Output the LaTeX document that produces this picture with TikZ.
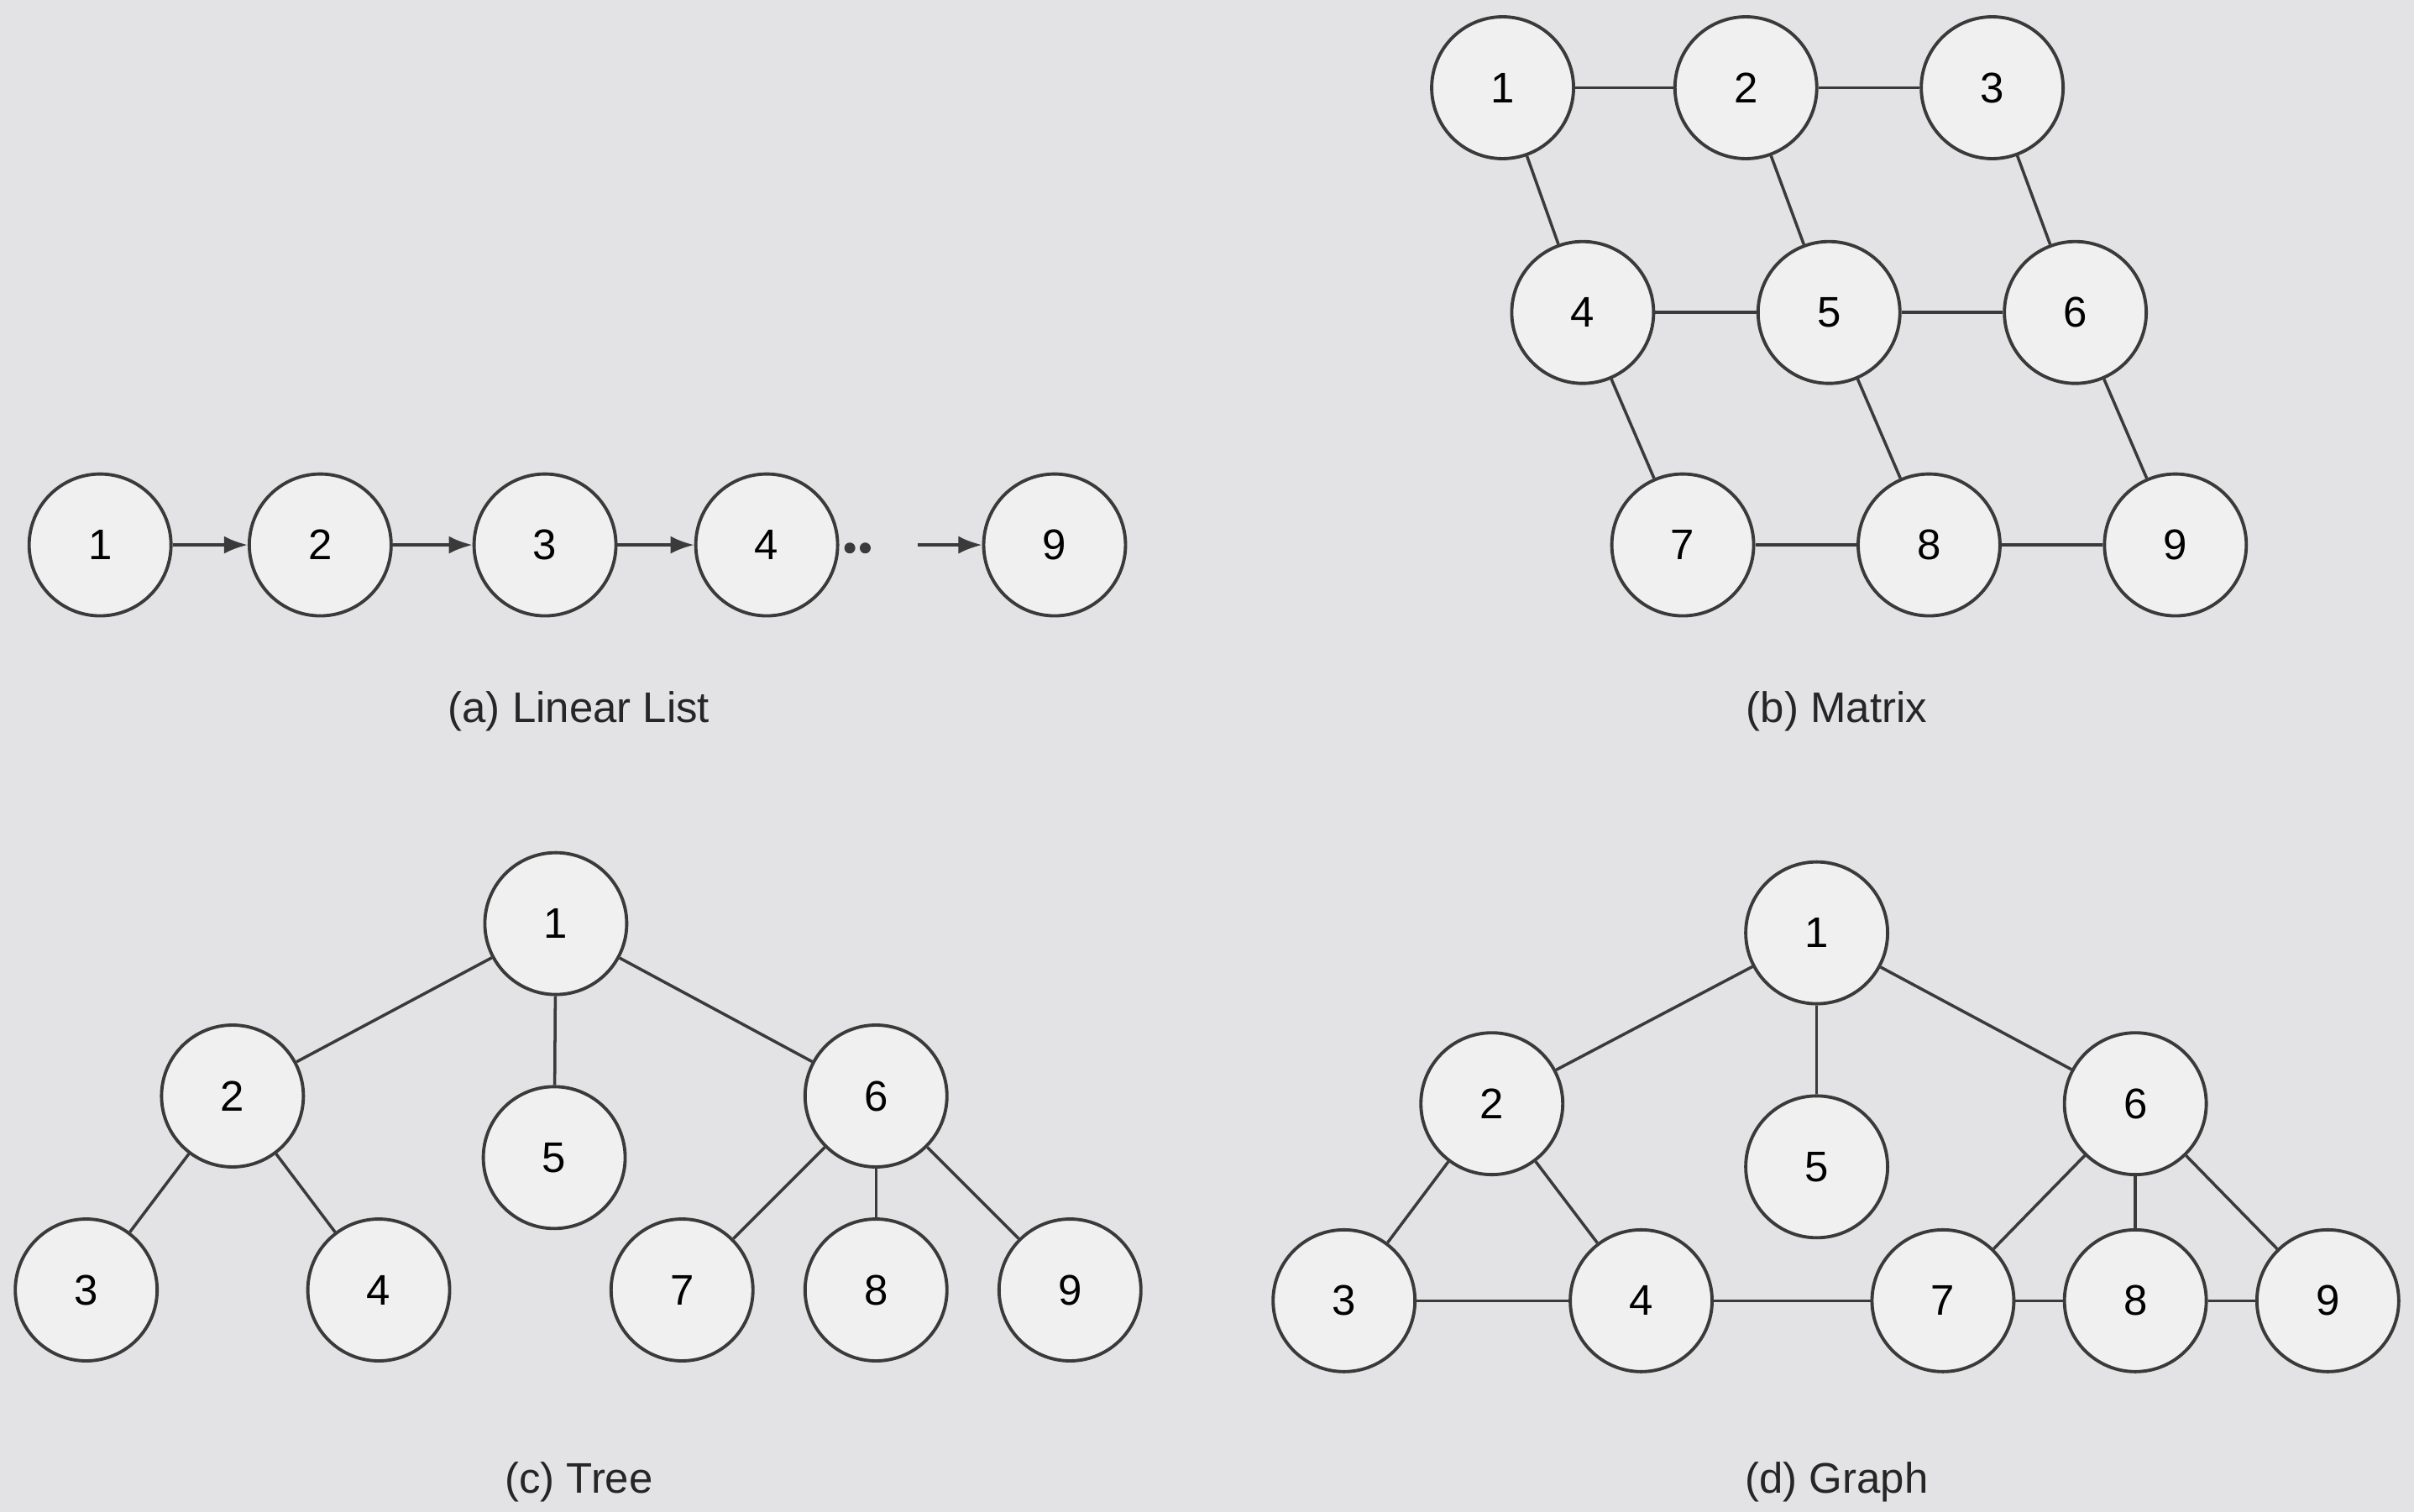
\documentclass[tikz,border=0pt]{standalone}
\usepackage{fontspec}
\setmainfont{Liberation Sans}
\usetikzlibrary{arrows.meta}
\definecolor{paper}{HTML}{E3E3E5}
\definecolor{disc}{HTML}{F0F0F0}
\definecolor{ink}{HTML}{3A3A3A}
\begin{document}
\begin{tikzpicture}
[x=0.018335cm,y=-0.018335cm,
  nodedecorate/.style={shape=circle,minimum size=1.69cm,inner sep=0pt,draw=ink,fill=disc,line width=1.1pt,font=\fontsize{14.5}{17}\selectfont},%
  linkdecorate/.style={draw=ink,line width=1pt},%
  arrowdecorate/.style={linkdecorate,-{Latex[length=8pt,width=6pt]}},%
  captiondecorate/.style={font=\fontsize{14.5}{17}\selectfont,text=black!85}]
\useasboundingbox[fill=paper] (0,0) rectangle (1568,982);
% (a) linear list
\node (a1) at (65,354) [nodedecorate] {1};
\node (a2) at (208,354) [nodedecorate] {2};
\node (a3) at (354,354) [nodedecorate] {3};
\node (a4) at (498,354) [nodedecorate] {4};
\node (a9) at (685,354) [nodedecorate] {9};
\fill[ink] (552,356) circle (0.065cm) (562,356) circle (0.065cm);
\coordinate (agap) at (596,354);
\path
(a1) edge[arrowdecorate] (a2)
(a2) edge[arrowdecorate] (a3)
(a3) edge[arrowdecorate] (a4)
(agap) edge[arrowdecorate] (a9);
\node (acap) at (376,462) [captiondecorate] {(a) Linear List};
% (b) matrix
\node (b1) at (976,57) [nodedecorate] {1};
\node (b2) at (1134,57) [nodedecorate] {2};
\node (b3) at (1294,57) [nodedecorate] {3};
\node (b4) at (1028,203) [nodedecorate] {4};
\node (b5) at (1188,203) [nodedecorate] {5};
\node (b6) at (1348,203) [nodedecorate] {6};
\node (b7) at (1093,354) [nodedecorate] {7};
\node (b8) at (1253,354) [nodedecorate] {8};
\node (b9) at (1413,354) [nodedecorate] {9};
\path[linkdecorate]
(b1) edge (b2) (b2) edge (b3)
(b4) edge (b5) (b5) edge (b6)
(b7) edge (b8) (b8) edge (b9)
(b1) edge (b4) (b4) edge (b7)
(b2) edge (b5) (b5) edge (b8)
(b3) edge (b6) (b6) edge (b9);
\node (bcap) at (1193,462) [captiondecorate] {(b) Matrix};
% (c) tree
\node (c1) at (361,600) [nodedecorate] {1};
\node (c2) at (151,712) [nodedecorate] {2};
\node (c5) at (360,752) [nodedecorate] {5};
\node (c6) at (569,712) [nodedecorate] {6};
\node (c3) at (56,838) [nodedecorate] {3};
\node (c4) at (246,838) [nodedecorate] {4};
\node (c7) at (443,838) [nodedecorate] {7};
\node (c8) at (569,838) [nodedecorate] {8};
\node (c9) at (695,838) [nodedecorate] {9};
\path[linkdecorate]
(c1) edge (c2) (c1) edge (c5) (c1) edge (c6)
(c2) edge (c3) (c2) edge (c4)
(c6) edge (c7) (c6) edge (c8) (c6) edge (c9);
\node (ccap) at (376,963) [captiondecorate] {(c) Tree};
% (d) graph
\node (d1) at (1180,606) [nodedecorate] {1};
\node (d2) at (969,717) [nodedecorate] {2};
\node (d5) at (1180,758) [nodedecorate] {5};
\node (d6) at (1387,717) [nodedecorate] {6};
\node (d3) at (873,845) [nodedecorate] {3};
\node (d4) at (1066,845) [nodedecorate] {4};
\node (d7) at (1262,845) [nodedecorate] {7};
\node (d8) at (1387,845) [nodedecorate] {8};
\node (d9) at (1512,845) [nodedecorate] {9};
\path[linkdecorate]
(d1) edge (d2) (d1) edge (d5) (d1) edge (d6)
(d2) edge (d3) (d2) edge (d4)
(d3) edge (d4) (d4) edge (d7)
(d6) edge (d7) (d6) edge (d8) (d6) edge (d9)
(d7) edge (d8) (d8) edge (d9);
\node (dcap) at (1193,963) [captiondecorate] {(d) Graph};
\end{tikzpicture}
\end{document}
